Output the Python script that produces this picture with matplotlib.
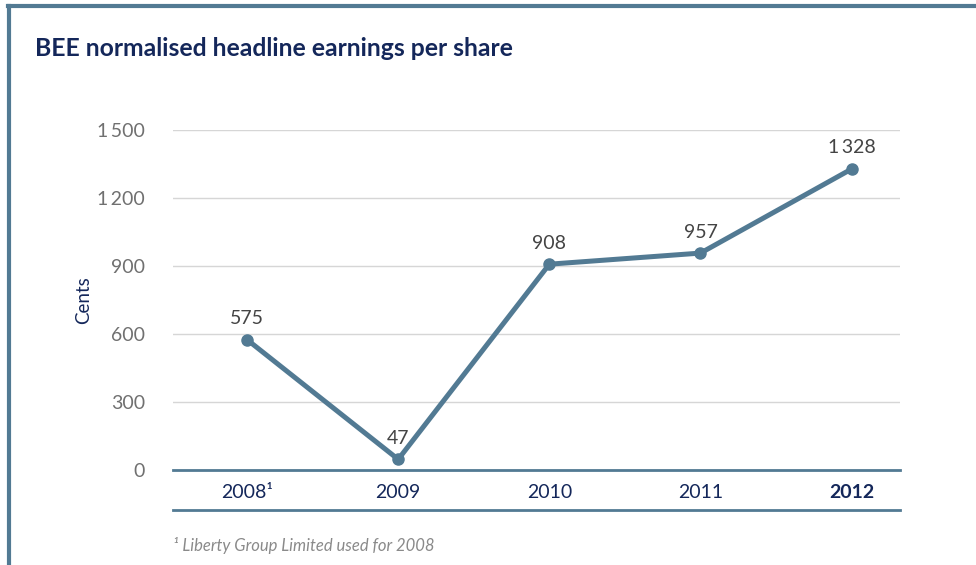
import matplotlib.pyplot as plt
from matplotlib.lines import Line2D

years = ['2008\u00b9', '2009', '2010', '2011', '2012']
eps_cents = [575, 47, 908, 957, 1328]
value_labels = ['575', '47', '908', '957', '1\u2009328']
y_ticks = [0, 300, 600, 900, 1200, 1500]
y_tick_labels = ['0', '300', '600', '900', '1\u2009200', '1\u2009500']

navy = '#14275a'
steel = '#527a93'
grey_text = '#707070'

plt.rcParams['font.family'] = ['Lato', 'DejaVu Sans']

fig = plt.figure(figsize=(9.76, 5.65), dpi=100)
ax = fig.add_axes([173 / 976, 95 / 565, 727 / 976, 340 / 565])

x = list(range(len(years)))
ax.plot(x, eps_cents, color=steel, lw=3.6, marker='o', ms=8,
        solid_capstyle='round', zorder=3)
for xi, v, lab in zip(x, eps_cents, value_labels):
    ax.annotate(lab, (xi, v), xytext=(0, 9), textcoords='offset points',
                ha='center', va='bottom', fontsize=14, color='#444444')

ax.set_xlim(-0.49, 4.32)
ax.set_ylim(0, 1500)
ax.set_yticks(y_ticks)
ax.set_yticklabels(y_tick_labels)
ax.grid(axis='y', color='#d6d6d6', lw=1)
ax.set_axisbelow(True)
for s in ['top', 'right', 'left']:
    ax.spines[s].set_visible(False)
ax.spines['bottom'].set_color(steel)
ax.spines['bottom'].set_linewidth(2)
ax.tick_params(axis='y', length=0, pad=20, labelsize=14, labelcolor=grey_text)
ax.tick_params(axis='x', length=0, pad=10, labelsize=14, labelcolor=navy)
ax.set_xticks(x)
xt = ax.set_xticklabels(years)
xt[-1].set_fontweight('bold')

ax.set_ylabel('Cents', color=navy, fontsize=13.5, labelpad=4)

# second rule under the year labels
fig.add_artist(Line2D([173 / 976, 900 / 976], [1 - 510 / 565] * 2,
                      color=steel, lw=2))

# frame lines along the top and left edge
fig.add_artist(Line2D([8 / 976, 1], [1 - 6 / 565] * 2, color=steel, lw=3))
fig.add_artist(Line2D([9 / 976] * 2, [0, 1 - 6 / 565], color=steel, lw=3))

fig.text(35 / 976, 1 - 48 / 565, 'BEE normalised headline earnings per share',
         fontsize=17.8, fontweight='bold', color=navy, va='center')
fig.text(173 / 976, 1 - 545 / 565, '\u00b9 Liberty Group Limited used for 2008',
         fontsize=12, style='italic', color='#8a8a8a', va='center')

fig.savefig('out.png', dpi=100)
